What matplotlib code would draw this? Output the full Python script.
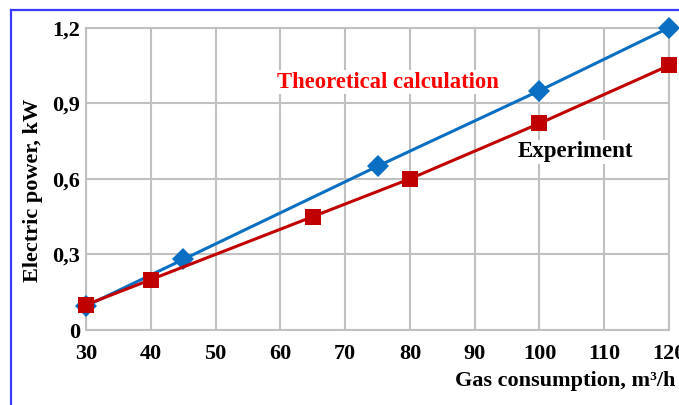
import matplotlib
matplotlib.use("Agg")
import matplotlib.pyplot as plt
from matplotlib.lines import Line2D

# Data
theory_x = [30, 45, 75, 100, 120]
theory_y = [0.095, 0.28, 0.65, 0.95, 1.20]
exp_x = [30, 40, 65, 80, 100, 120]
exp_y = [0.10, 0.20, 0.45, 0.60, 0.82, 1.05]
x_ticks = [30, 40, 50, 60, 70, 80, 90, 100, 110, 120]
y_ticks = [0, 0.3, 0.6, 0.9, 1.2]
y_labels = ["0", "0,3", "0,6", "0,9", "1,2"]

W, H = 679, 405
fig = plt.figure(figsize=(W / 100, H / 100), dpi=100)
plt.rcParams['font.family'] = ['Liberation Serif', 'DejaVu Serif']

# outer blue frame lines (left and top)
fig.add_artist(Line2D([11 / W, 11 / W], [0, 1 - 9.5 / H], transform=fig.transFigure,
                      color='#3a3aff', lw=1.6))
fig.add_artist(Line2D([11 / W, 1], [1 - 9.5 / H, 1 - 9.5 / H], transform=fig.transFigure,
                      color='#3a3aff', lw=1.6))

left, right = 86 / W, 669 / W
bottom, top = 1 - 330 / H, 1 - 27.7 / H
ax = fig.add_axes([left, bottom, right - left, top - bottom])
ax.set_xlim(30, 120)
ax.set_ylim(0, 1.2)
ax.set_xticks(x_ticks)
ax.set_yticks(y_ticks)
ax.set_yticklabels(y_labels)
ax.grid(True, color='#c0c0c0', lw=1.5)
ax.set_axisbelow(True)
for s in ax.spines.values():
    s.set_color('#c0c0c0')
    s.set_linewidth(1.5)
ax.tick_params(length=0, labelsize=16, pad=4)
ax.tick_params(axis='x', pad=10)
for lab in ax.get_xticklabels() + ax.get_yticklabels():
    lab.set_fontweight('bold')

ax.plot(theory_x, theory_y, color='#0a6fc2', lw=2.2, marker='D', ms=11,
        markeredgewidth=0, clip_on=False, zorder=3)
ax.plot(exp_x, exp_y, color='#c00000', lw=2.2, marker='s', ms=11.5,
        markeredgewidth=0, clip_on=False, zorder=4)

fig.text(388 / W, 1 - 82 / H, "Theoretical calculation", color='#ff0000',
         fontsize=16.3, fontweight='bold', ha='center', va='center',
         bbox=dict(facecolor='white', edgecolor='none', pad=1))
fig.text(575 / W, 1 - 152 / H, "Experiment", color='black',
         fontsize=16.5, fontweight='bold', ha='center', va='center',
         bbox=dict(facecolor='white', edgecolor='none', pad=1))

fig.text(675 / W, 1 - 381 / H, "Gas consumption, m\u00b3/h", color='black',
         fontsize=16, fontweight='bold', ha='right', va='center')
fig.text(33 / W, 1 - 190 / H, "Electric power, kW", color='black',
         fontsize=16, fontweight='bold', ha='center', va='center', rotation=90)

fig.savefig("out.png", dpi=100)
